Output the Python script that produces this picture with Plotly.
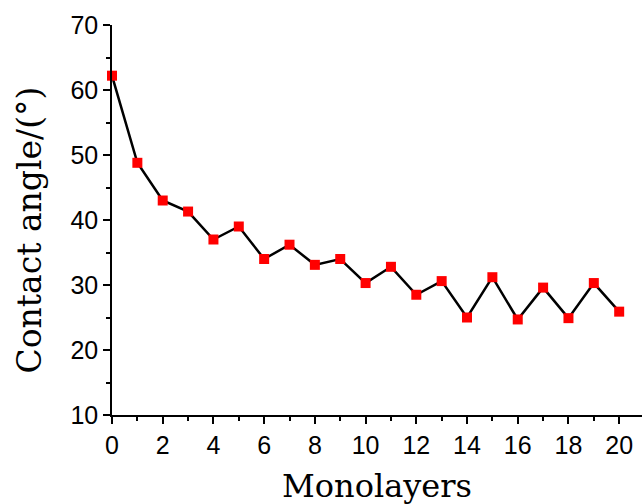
import plotly.graph_objects as go

monolayers = list(range(0, 21))
contact_angle = [62.2, 48.8, 43.0, 41.3, 37.0, 39.0, 34.0, 36.2, 33.1, 34.0,
                 30.3, 32.8, 28.5, 30.6, 25.0, 31.2, 24.7, 29.6, 24.9, 30.3, 25.9]
x_ticks = list(range(0, 21, 2))
y_ticks = list(range(10, 71, 10))

fig = go.Figure()
fig.add_trace(go.Scatter(
    x=monolayers, y=contact_angle, mode="lines+markers",
    line=dict(color="black", width=2.5),
    marker=dict(symbol="square", size=10, color="#ff0000", line=dict(width=0)),
    cliponaxis=False, showlegend=False,
))

axis_common = dict(
    showgrid=False, zeroline=False, showline=True, linecolor="black", linewidth=1.5,
    ticks="outside", ticklen=7, tickwidth=1.5, tickcolor="black",
    tickfont=dict(family="Liberation Sans, Arial, sans-serif", size=25, color="black"),
)
fig.update_xaxes(range=[0, 20.9], tickvals=x_ticks,
                 minor=dict(dtick=1, ticklen=4, tickwidth=1.5, tickcolor="black", ticks="outside"),
                 **axis_common)
fig.update_yaxes(range=[10, 70], tickvals=y_ticks,
                 minor=dict(dtick=5, ticklen=4, tickwidth=1.5, tickcolor="black", ticks="outside"),
                 **axis_common)

fig.add_annotation(text="Monolayers", xref="paper", yref="paper", x=0.5, y=-0.128,
                   xanchor="center", yanchor="top", showarrow=False,
                   font=dict(family="DejaVu Serif, serif", size=32, color="black"))
fig.add_annotation(text="Contact angle/(°)", xref="paper", yref="paper", x=-0.155, y=0.475,
                   xanchor="center", yanchor="middle", textangle=-90, showarrow=False,
                   font=dict(family="DejaVu Serif, serif", size=33, color="black"))

fig.update_layout(
    width=644, height=504,
    margin=dict(l=112, r=2, t=25, b=89),
    paper_bgcolor="white", plot_bgcolor="white",
)
fig.write_html("out.html", config={"displayModeBar": False},
               post_script="document.body.style.margin='0';")
